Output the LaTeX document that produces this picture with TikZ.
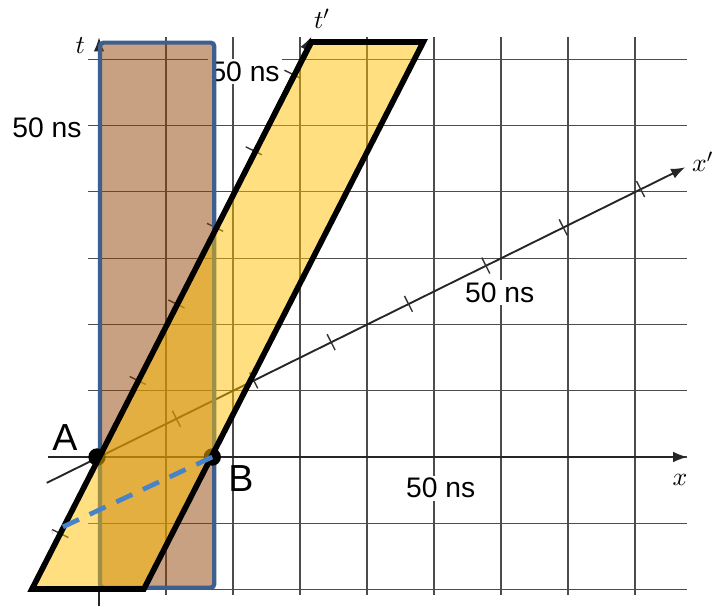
\documentclass[tikz,border=0pt]{standalone}
\usepackage{fontspec}
\setmainfont{Liberation Sans}
\usetikzlibrary{arrows.meta}
\definecolor{boxbrown}{RGB}{145,65,5}
\definecolor{boxblue}{RGB}{60,95,142}
\definecolor{slabgold}{RGB}{255,192,0}
\definecolor{dashblue}{RGB}{72,130,200}

\begin{document}
\begin{tikzpicture}[x=1cm, y=0.9896cm,
    gridline/.style={black!70, line width=0.5pt},
    axis/.style={black!85, line width=0.6pt, -{Latex[length=6pt,width=4.5pt]}},
    tickmark/.style={black!80, line width=0.6pt},
    axlabel/.style={inner sep=0pt, font=\fontsize{11}{13}\selectfont},
    nslabel/.style={fill=white, inner sep=1pt, font=\fontsize{12}{14}\selectfont},
    ptlabel/.style={inner sep=0pt, font=\fontsize{16}{19}\selectfont},
    evdot/.style={circle, fill=black, inner sep=0pt, minimum size=0.26cm},
    slab/.style={draw=black, line width=2.4pt, fill=slabgold, fill opacity=0.5}
]
\useasboundingbox (-1.478,-2.247) rectangle (9.164,6.893);

% grid of the rest frame
\foreach \j in {-2,...,6} \draw[gridline] (-0.16,\j) -- (8.78,\j);
\foreach \i in {1,...,8} \draw[gridline] (\i,-2.08) -- (\i,6.33);

% axes
\coordinate (xs) at (-0.76,0);
\coordinate (xe) at (8.78,0);
\coordinate (ts) at (0,-2.25);
\coordinate (te) at (0,6.33);
\coordinate (xps) at (-0.78,-0.39);
\coordinate (xpe) at (8.75,4.37);
\coordinate (O) at (0,0);
\coordinate (tpe) at (3.17,6.34);
\draw[axis] (xs) -- (xe);
\draw[axis] (ts) -- (te);
\draw[axis, line width=0.8pt] (xps) -- (xpe);
\draw[axis] (O) -- (tpe);
\foreach \k in {1,...,7} \draw[tickmark] ({1.1547*\k-0.06},{0.5774*\k+0.12}) -- ++(0.12,-0.24);
\foreach \k in {-1,1,2,3,4,5} \draw[tickmark] ({0.5774*\k-0.12},{1.1547*\k+0.06}) -- ++(0.24,-0.12);

\node[axlabel] (xlab) at (8.67,-0.35) {$x$};
\node[axlabel] (tlab) at (-0.28,6.2) {$t$};
\node[axlabel] (xplab) at (9.01,4.45) {$x'$};
\node[axlabel] (tplab) at (3.33,6.61) {$t'$};

\node[nslabel] (ns-t) at (-0.776,4.97) {50 ns};
\node[nslabel] (ns-tp) at (2.18,5.81) {50 ns};
\node[nslabel] (ns-xp) at (5.98,2.48) {50 ns};
\node[nslabel] (ns-x) at (5.10,-0.47) {50 ns};

% rod at rest
\draw[boxblue, line width=1.8pt, rounded corners=1.5pt, fill=boxbrown, fill opacity=0.5] (0.015,-1.97) rectangle (1.72,6.25);

\node[evdot] (A) at (-0.03,0) {};
\node[evdot] (B) at (1.69,0) {};

% moving rod
\coordinate (p1) at (-1,-1.99);
\coordinate (p2) at (3.17,6.26);
\coordinate (p3) at (4.84,6.26);
\coordinate (p4) at (0.67,-1.99);
\draw[slab] (p1) -- (p2) -- (p3) -- (p4) -- cycle;

\coordinate (dend) at (-0.70,-1.13);
\draw[dashblue, line width=2pt, dash pattern=on 7.5pt off 5pt] (B.center) -- (dend);

\node[ptlabel] (Alab) at (-0.507,0.287) {A};
\node[ptlabel] (Blab) at (2.12,-0.33) {B};
\end{tikzpicture}
\end{document}
